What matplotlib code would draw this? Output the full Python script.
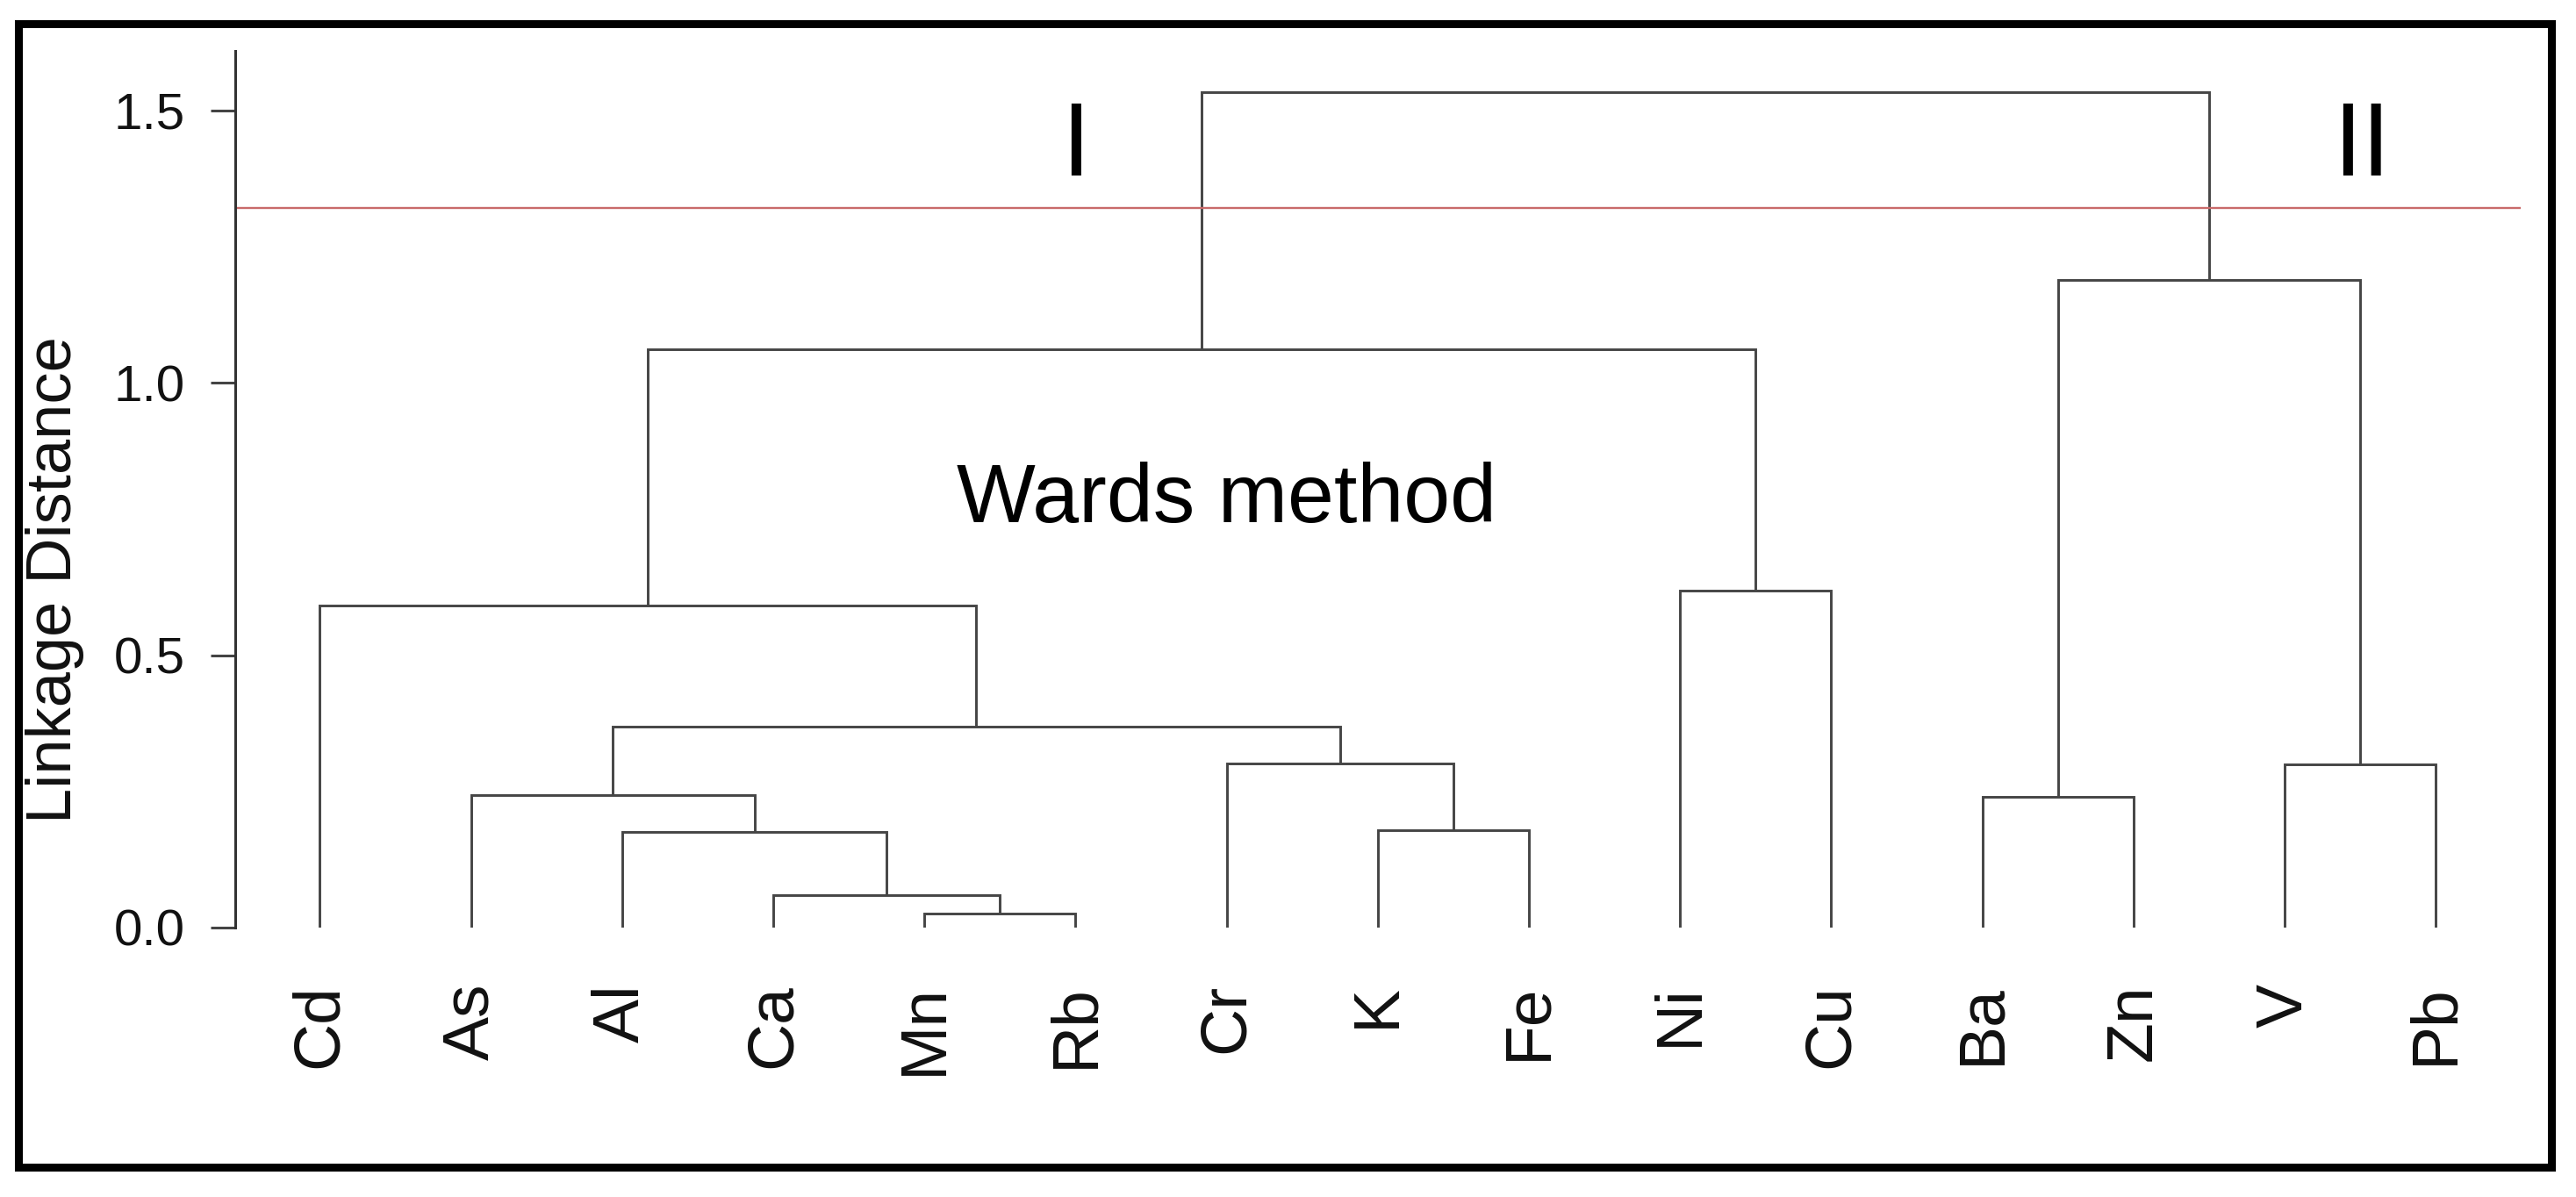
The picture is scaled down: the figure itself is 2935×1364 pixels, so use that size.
import matplotlib
matplotlib.use("Agg")
import matplotlib.pyplot as plt
from matplotlib.patches import Rectangle

plt.rcParams['font.family'] = ['Liberation Sans', 'DejaVu Sans']

# ---- data ----
leaf_labels = ['Cd', 'As', 'Al', 'Ca', 'Mn', 'Rb', 'Cr', 'K', 'Fe',
               'Ni', 'Cu', 'Ba', 'Zn', 'V', 'Pb']
merge_left = ['Mn', 'Ca', 'Al', 'As', 'K', 'Cr', 'm4', 'Cd', 'Ni', 'm8',
              'Ba', 'V', 'm11', 'm10']
merge_right = ['Rb', 'm1', 'm2', 'm3', 'Fe', 'm5', 'm6', 'm7', 'Cu', 'm9',
               'Zn', 'Pb', 'm12', 'm13']
merge_height = [0.025, 0.060, 0.176, 0.243, 0.179, 0.302, 0.369, 0.591,
                0.619, 1.061, 0.240, 0.299, 1.189, 1.534]
cut_height = 1.321
y_ticks = [0.0, 0.5, 1.0, 1.5]
y_tick_labels = ['0.0', '0.5', '1.0', '1.5']
cluster_labels = ['I', 'II']
cluster_label_x = [6.0, 14.51]
method_label = 'Wards method'
y_label = 'Linkage Distance'

# ---- figure ----
W, H = 2935, 1364
fig = plt.figure(figsize=(W / 100, H / 100), dpi=100)
ax = fig.add_axes([268 / W, 307 / H, 2603.7 / W, 999.3 / H])
ax.set_xlim(0.44, 15.56)
ax.set_ylim(0, 1.61)

line_col = '#454545'
lw = 2.1

# node positions
pos = {}
hgt = {}
for i, lab in enumerate(leaf_labels):
    pos[lab] = i + 1
    hgt[lab] = 0.0
for k, (a, b, h) in enumerate(zip(merge_left, merge_right, merge_height)):
    xa, xb = pos[a], pos[b]
    ax.plot([xa, xa, xb, xb], [hgt[a], h, h, hgt[b]], color=line_col,
            lw=lw, solid_joinstyle='miter', solid_capstyle='butt')
    name = 'm%d' % (k + 1)
    pos[name] = (xa + xb) / 2
    hgt[name] = h

# cut line
ax.axhline(cut_height, color='#c96a6a', lw=1.7)

# axes styling
for s in ['top', 'right', 'bottom']:
    ax.spines[s].set_visible(False)
ax.spines['left'].set_color('#333333')
ax.spines['left'].set_linewidth(2.2)
ax.set_yticks(y_ticks)
ax.set_yticklabels(y_tick_labels)
ax.tick_params(axis='y', length=20, width=2.2, color='#444444', pad=21,
               labelsize=42, labelcolor='#111111')
ax.set_xticks(range(1, len(leaf_labels) + 1))
ax.set_xticklabels(leaf_labels, rotation=90)
ax.tick_params(axis='x', length=0, pad=46, labelsize=54, labelcolor='#111111')

# annotations
for lab, x in zip(cluster_labels, cluster_label_x):
    ax.text(x, 1.381, lab, fontsize=85, ha='center', va='baseline', color='#000000')
ax.text(7.0, 0.744, method_label, fontsize=68.5, ha='center', va='baseline',
        color='#000000')

fig.text(63 / W, 1 - 661 / H, y_label, rotation=90, ha='center', va='center',
         fontsize=52, color='#111111')

# outer frame
fig.patches.append(Rectangle((20.5 / W, (H - 1329.5) / H), (2906.5 - 20.5) / W,
                             (1329.5 - 26.5) / H, transform=fig.transFigure,
                             fill=False, edgecolor='black', lw=6.5))

fig.savefig('out.png', dpi=100)
